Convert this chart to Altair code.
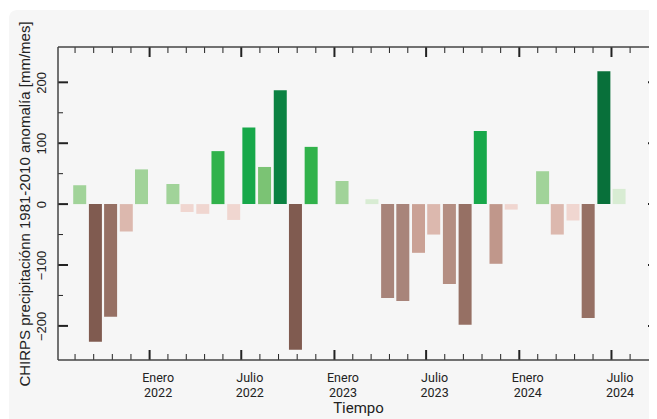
import altair as alt
import pandas as pd

# ---- data ----
months = ["2021-08", "2021-09", "2021-10", "2021-11", "2021-12",
          "2022-02", "2022-03", "2022-04", "2022-05", "2022-06", "2022-07",
          "2022-08", "2022-09", "2022-10", "2022-11",
          "2023-01", "2023-03", "2023-04", "2023-05", "2023-06", "2023-07",
          "2023-08", "2023-09", "2023-10", "2023-11", "2023-12",
          "2024-02", "2024-03", "2024-04", "2024-05", "2024-06", "2024-07"]
anomaly = [31, -226, -185, -45, 57,
           33, -13, -16, 87, -26, 126,
           61, 187, -239, 94,
           38, 8, -154, -159, -80, -50,
           -131, -198, 120, -98, -9,
           54, -50, -27, -187, 218, 25]

thresholds = [-210, -170, -140, -115, -90, -65, -30, 0, 30, 60, 75, 110, 150, 200]
palette = ["#805b50", "#967064", "#a8847a", "#b48e82", "#c0978b", "#caa195", "#dcb8ae", "#f0d6d0",
           "#d8ecd3", "#a1d399", "#7bc374", "#31b24b", "#17a84a", "#0b8242", "#08703a"]

y_major = [-200, -100, 0, 100, 200]
y_minor = [-150, -50, 50, 150]
x_major = ["2022-01-01", "2022-07-01", "2023-01-01", "2023-07-01", "2024-01-01", "2024-07-01"]
half_years = ["2021-07-01", "2022-01-01", "2022-07-01", "2023-01-01", "2023-07-01",
              "2024-01-01", "2024-07-01", "2025-01-01"]
x_domain = ("2021-07-14", "2024-09-21")
minor_last = "2024-08-31"

y_title = "CHIRPS precipitaciónn 1981-2010 anomalía [mm/mes]"
x_title = "Tiempo"

# ---- derived tables ----
FMT = "%Y-%m-%dT%H:%M:%S"
bars_df = pd.DataFrame({"date": [m + "-16T00:00:00" for m in months], "anomaly": anomaly})

minor = []
for a, b in zip(half_years[:-1], half_years[1:]):
    ta, tb = pd.Timestamp(a), pd.Timestamp(b)
    for k in range(1, 5):
        t = ta + (tb - ta) * k / 5
        if pd.Timestamp(x_domain[0]) < t <= pd.Timestamp(minor_last):
            minor.append(t.strftime(FMT))
xmaj_df = pd.DataFrame({"date": [pd.Timestamp(d).strftime(FMT) for d in x_major]})
xmin_df = pd.DataFrame({"date": minor})
ymaj_df = pd.DataFrame({"anomaly": y_major})
ymin_df = pd.DataFrame({"anomaly": y_minor})
one = pd.DataFrame({"a": [0]})


def dt(s):
    t = pd.Timestamp(s)
    return alt.DateTime(year=t.year, month=t.month, date=t.day)


W, H = 600, 313
INK = "#222222"
xscale = alt.Scale(domain=[dt(x_domain[0]), dt(x_domain[1])], nice=False)
yscale = alt.Scale(domain=[-256, 258], nice=False, zero=False)

x_axis = alt.Axis(values=[dt(d) for d in x_major], ticks=False, domain=False, grid=False,
                  labelExpr="month(datum.value) == 0 ? ['Enero', '' + year(datum.value)] : ['Julio', '' + year(datum.value)]",
                  labelFont="Roboto", labelFontSize=12.5, labelColor=INK, labelPadding=11, labelOffset=8,
                  labelLineHeight=15, labelFlush=False, labelOverlap=False,
                  title=x_title, titleFont="Roboto", titleFontSize=15, titleFontWeight="normal",
                  titleColor=INK, titlePadding=2, zindex=1)
y_axis = alt.Axis(values=y_major, ticks=False, domain=False, grid=False,
                  labelAngle=270, labelAlign="center", labelBaseline="bottom", labelPadding=10,
                  labelFont="Liberation Sans", labelFontSize=13, labelColor=INK,
                  title=y_title, titleFont="Liberation Sans", titleFontSize=15,
                  titleFontWeight="normal", titleColor=INK, titlePadding=3, zindex=1)

X = alt.X("date:T", scale=xscale, axis=x_axis)
Y = alt.Y("anomaly:Q", scale=yscale, axis=y_axis)

bg = alt.Chart(one).mark_rect(fill="#f6f6f6", cornerRadius=8).encode(
    x=alt.value(-49), x2=alt.value(W + 60), y=alt.value(-37), y2=alt.value(H + 90)
)

bars = alt.Chart(bars_df).mark_bar(size=13).encode(
    x=X, y=Y, y2=alt.datum(0),
    color=alt.Color("anomaly:Q", scale=alt.Scale(type="threshold", domain=thresholds, range=palette),
                    legend=None),
)


def xticks(df, length, width):
    top = alt.Chart(df).mark_rule(color=INK, strokeWidth=width).encode(
        x=X, y=alt.value(0), y2=alt.value(length))
    bottom = alt.Chart(df).mark_rule(color=INK, strokeWidth=width).encode(
        x=X, y=alt.value(H), y2=alt.value(H - length))
    return [top, bottom]


def yticks(df, length, width):
    left = alt.Chart(df).mark_rule(color=INK, strokeWidth=width).encode(
        y=Y, x=alt.value(0), x2=alt.value(length))
    right = alt.Chart(df).mark_rule(color=INK, strokeWidth=width).encode(
        y=Y, x=alt.value(W), x2=alt.value(W - length))
    return [left, right]


FRAME = "#444444"
frame = [
    alt.Chart(one).mark_rule(color=FRAME, strokeWidth=1.5).encode(x=alt.value(0), x2=alt.value(W), y=alt.value(0)),
    alt.Chart(one).mark_rule(color=FRAME, strokeWidth=1.5).encode(x=alt.value(0), x2=alt.value(W), y=alt.value(H)),
    alt.Chart(one).mark_rule(color=FRAME, strokeWidth=1.5).encode(x=alt.value(0), y=alt.value(0), y2=alt.value(H)),
    alt.Chart(one).mark_rule(color=FRAME, strokeWidth=1.5).encode(x=alt.value(W), y=alt.value(0), y2=alt.value(H)),
]

layers = [bg, bars] + xticks(xmaj_df, 10, 2) + xticks(xmin_df, 6, 1) \
    + yticks(ymaj_df, 10, 2) + yticks(ymin_df, 5, 1) + frame

chart = alt.layer(*layers).properties(
    width=W, height=H,
    autosize=alt.AutoSizeParams(type="none"),
    padding={"left": 50, "top": 39, "right": -9, "bottom": 60},
).configure(background="white").configure_view(stroke=None)

chart.save("out.html", embed_options={"renderer": "svg", "actions": False})
